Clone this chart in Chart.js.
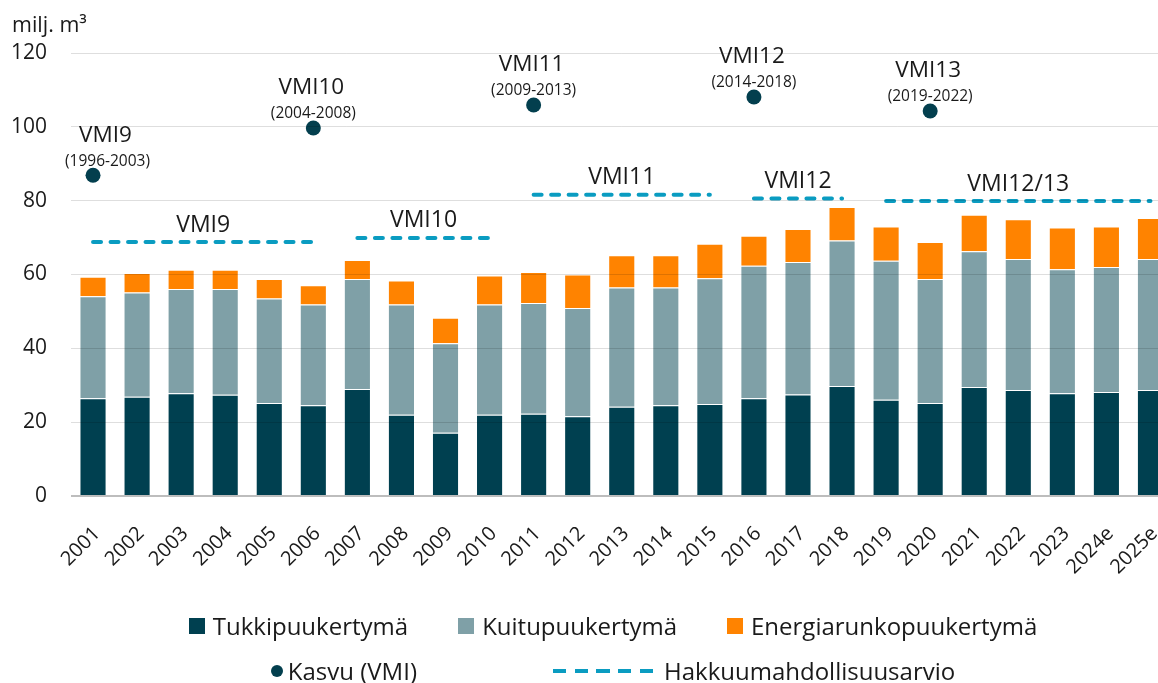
<!DOCTYPE html>
<html lang="fi">
<head>
<meta charset="utf-8">
<title>Hakkuukertymä ja kasvu</title>
<script src="https://cdn.jsdelivr.net/npm/chart.js@4.4.1/dist/chart.umd.min.js"></script>
<style>
  html, body { margin: 0; padding: 0; background: #fff; overflow: hidden; }
  body { width: 1158px; height: 683px; position: relative; font-family: 'Open Sans', sans-serif; color: #1a1a1a; }
  #wrap { position: absolute; left: 0; top: 0; width: 1180px; height: 683px; }
  #legend { position: absolute; left: 0; top: 603px; width: 1226px; font-size: 24px; }
  .row { display: flex; justify-content: center; align-items: center; height: 45px; white-space: nowrap; }
  .row1 { gap: 50px; }
  .row2 { gap: 136px; }
  .item { display: flex; align-items: center; }
  .box { width: 16px; height: 16px; margin-right: 8px; }
  .dot { width: 12px; height: 12px; border-radius: 50%; margin-right: 5px; }
  .dash { width: 100px; height: 4px; margin-right: 11px; }
</style>
</head>
<body>
<div id="wrap"><canvas id="chart" width="1180" height="683"></canvas></div>
<div id="legend"></div>
<script>
// Hakkuukertymä (milj. m3) puutavaralajeittain + kasvu ja hakkuumahdollisuusarviot (VMI)

const years = ['2001', '2002', '2003', '2004', '2005', '2006', '2007', '2008', '2009', '2010',
  '2011', '2012', '2013', '2014', '2015', '2016', '2017', '2018', '2019', '2020',
  '2021', '2022', '2023', '2024e', '2025e'];

const tukki = [26.5, 26.9, 27.8, 27.4, 25.2, 24.6, 29.0, 22.0, 17.1, 22.0,
  22.3, 21.6, 24.2, 24.6, 24.9, 26.5, 27.5, 29.8, 26.1, 25.2,
  29.5, 28.7, 27.8, 28.2, 28.7];
const kuitu = [27.6, 28.2, 28.3, 28.7, 28.3, 27.3, 29.8, 29.9, 24.3, 29.9,
  30.0, 29.3, 32.3, 31.9, 34.1, 35.9, 35.9, 39.4, 37.6, 33.6,
  36.8, 35.5, 33.6, 33.8, 35.5];
const energia = [5.3, 5.3, 5.2, 5.2, 5.3, 5.2, 5.1, 6.5, 6.9, 7.8,
  8.4, 9.1, 8.7, 8.7, 9.3, 8.1, 8.9, 9.1, 9.3, 10.0,
  9.9, 10.8, 11.3, 11.0, 11.1];

// Kasvu VMI-inventoinneittain
const kasvu = [86.9, null, null, null, null, 99.7, null, null, null, null,
  105.9, null, null, null, null, 108.1, null, null, null, 104.3,
  null, null, null, null, null];
const kasvuNimi = ['VMI9', '', '', '', '', 'VMI10', '', '', '', '',
  'VMI11', '', '', '', '', 'VMI12', '', '', '', 'VMI13',
  '', '', '', '', ''];
const kasvuJakso = ['(1996-2003)', '', '', '', '', '(2004-2008)', '', '', '', '',
  '(2009-2013)', '', '', '', '', '(2014-2018)', '', '', '', '(2019-2022)',
  '', '', '', '', ''];

// Hakkuumahdollisuusarviot
const hakkuu = [68.8, 68.8, 68.8, 68.8, 68.8, 68.8, 69.9, 69.9, 69.9, 69.9,
  81.6, 81.6, 81.6, 81.6, 81.6, 80.6, 80.6, 80.6, 79.9, 79.9,
  79.9, 79.9, 79.9, 79.9, 79.9];
const hakkuuJakso = ['VMI9', 'VMI9', 'VMI9', 'VMI9', 'VMI9', 'VMI9', 'VMI10', 'VMI10', 'VMI10', 'VMI10',
  'VMI11', 'VMI11', 'VMI11', 'VMI11', 'VMI11', 'VMI12', 'VMI12', 'VMI12', 'VMI12/13', 'VMI12/13',
  'VMI12/13', 'VMI12/13', 'VMI12/13', 'VMI12/13', 'VMI12/13'];

const yTicks = [0, 20, 40, 60, 80, 100, 120];

const C = {
  tukki: '#004050',
  kuitu: '#7fa0a7',
  energia: '#ff8300',
  kasvu: '#033f4e',
  hakkuu: '#0a9cc1',
  text: '#1a1a1a'
};
const FONT = "'Open Sans', sans-serif";

const barBase = {
  type: 'bar',
  stack: 'kertyma',
  order: 2,
  borderWidth: 1,
  borderColor: 'rgba(255,255,255,0.45)',
  categoryPercentage: 1,
  barPercentage: 0.615
};

const labelPlugin = {
  id: 'vmiLabels',
  afterDatasetsDraw(chart) {
    const ctx = chart.ctx;
    const area = chart.chartArea;
    ctx.save();
    ctx.fillStyle = C.text;
    ctx.textAlign = 'center';
    ctx.textBaseline = 'middle';

    // kasvupisteiden otsikot
    const pm = chart.getDatasetMeta(3);
    kasvu.forEach((v, i) => {
      if (v == null) return;
      const p = pm.data[i];
      ctx.font = '22.5px ' + FONT;
      const w1 = ctx.measureText(kasvuNimi[i]).width;
      ctx.font = '15.5px ' + FONT;
      const w2 = ctx.measureText(kasvuJakso[i]).width;
      const half = Math.max(w1, w2) / 2;
      const x = Math.max(p.x, area.left - 6 + half);
      ctx.font = '22.5px ' + FONT;
      ctx.fillText(kasvuNimi[i], x - 2, p.y - 40);
      ctx.font = '15.5px ' + FONT;
      ctx.fillText(kasvuJakso[i], x, p.y - 14);
    });

    // hakkuumahdollisuusjaksojen otsikot
    const hm = chart.getDatasetMeta(4);
    let start = 0;
    ctx.font = '23px ' + FONT;
    for (let i = 1; i <= hakkuuJakso.length; i++) {
      if (i === hakkuuJakso.length || hakkuuJakso[i] !== hakkuuJakso[start]) {
        const a = hm.data[start], b = hm.data[i - 1];
        ctx.fillText(hakkuuJakso[start], (a.x + b.x) / 2, a.y - 17);
        start = i;
      }
    }

    // yksikkö
    ctx.textAlign = 'left';
    ctx.font = '21.5px ' + FONT;
    ctx.fillText('milj. m\u00b3', 12, 26);
    ctx.restore();
  }
};

const chart = new Chart(document.getElementById('chart'), {
  data: {
    labels: years,
    datasets: [
      { ...barBase, label: 'Tukkipuukertymä', data: tukki, backgroundColor: C.tukki },
      { ...barBase, label: 'Kuitupuukertymä', data: kuitu, backgroundColor: C.kuitu },
      { ...barBase, label: 'Energiarunkopuukertymä', data: energia, backgroundColor: C.energia },
      {
        type: 'line', label: 'Kasvu (VMI)', data: kasvu, stack: 'kasvu', order: 0,
        showLine: false, pointRadius: 7.5, pointHoverRadius: 7.5,
        pointBackgroundColor: C.kasvu, pointBorderWidth: 0, borderColor: C.kasvu
      },
      {
        type: 'line', label: 'Hakkuumahdollisuusarvio', data: hakkuu, stack: 'hakkuu', order: 1,
        borderColor: C.hakkuu, borderWidth: 4, borderDash: [8, 9.5], borderCapStyle: 'round',
        pointRadius: 0, pointHoverRadius: 0, tension: 0,
        segment: {
          borderColor: s => hakkuuJakso[s.p0DataIndex] === hakkuuJakso[s.p1DataIndex] ? C.hakkuu : 'rgba(0,0,0,0)'
        }
      }
    ]
  },
  options: {
    responsive: false,
    animation: false,
    devicePixelRatio: 1,
    layout: { padding: { top: 53, left: 0, right: 5, bottom: 0 } },
    plugins: {
      legend: { display: false },
      tooltip: { enabled: false }
    },
    scales: {
      x: {
        stacked: true,
        grid: { display: false },
        border: { display: false },
        ticks: {
          color: C.text,
          font: { family: FONT, size: 20 },
          minRotation: 45,
          maxRotation: 45,
          autoSkip: false,
          padding: 18,
          labelOffset: 4
        },
        afterFit: s => {
          s.height = 683 - 496;
          s.paddingLeft = 0;
          s.paddingRight = 0;
        }
      },
      y: {
        stacked: true,
        min: 0,
        max: 120,
        afterBuildTicks: s => { s.ticks = yTicks.map(v => ({ value: v })); },
        grid: {
          z: 1,
          drawTicks: false,
          color: c => c.tick.value === 0 ? '#bdbdbd' : 'rgba(0,0,0,0.13)',
          lineWidth: c => c.tick.value === 0 ? 2 : 1
        },
        border: { display: false },
        ticks: {
          color: C.text,
          font: { family: FONT, size: 21 },
          padding: 24
        },
        afterFit: s => { s.width = 71; }
      }
    }
  },
  plugins: [labelPlugin]
});

// selite kahdella rivillä
const ds = chart.data.datasets;
const legend = document.getElementById('legend');
legend.innerHTML =
  '<div class="row row1">' +
  [0, 1, 2].map(i => `<div class="item"><span class="box" style="background:${ds[i].backgroundColor}"></span><span>${ds[i].label}</span></div>`).join('') +
  '</div><div class="row row2">' +
  `<div class="item"><span class="dot" style="background:${C.kasvu}"></span><span>${ds[3].label}</span></div>` +
  `<div class="item"><span class="dash" style="background:repeating-linear-gradient(90deg, ${C.hakkuu} 0 13px, transparent 13px 21.75px)"></span><span>${ds[4].label}</span></div>` +
  '</div>';
</script>
</body>
</html>
